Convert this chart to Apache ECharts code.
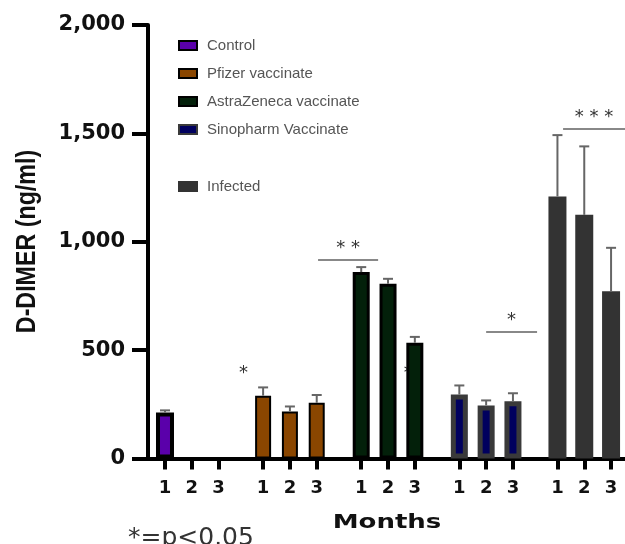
<!DOCTYPE html>
<html>
<head>
<meta charset="utf-8">
<title>D-DIMER</title>
<script src="https://cdn.jsdelivr.net/npm/echarts@6/dist/echarts.min.js"></script>
<style>
  html, body { margin: 0; padding: 0; background: #fff; }
  #main { width: 625px; height: 544px; }
</style>
</head>
<body>
<div id="main"></div>
<script>
    // 分组 / 月份 / 刻度
    const groupNames = ['Control', 'Pfizer vaccinate', 'AstraZeneca vaccinate', 'Sinopharm Vaccinate', 'Infected'];
    const monthLabels = ['1', '2', '3'];
    const yTicks = [0, 500, 1000, 1500, 2000];

    // 均值 与 误差 (ng/ml)
    const controlMean = [212, null, null];
    const controlErr = [10, null, null];
    const pfizerMean = [290, 217, 257];
    const pfizerErr = [38, 23, 36];
    const astraMean = [860, 806, 534];
    const astraErr = [23, 23, 27];
    const sinoMean = [295, 245, 264];
    const sinoErr = [42, 23, 37];
    const infectedMean = [1209, 1124, 772];
    const infectedErr = [283, 316, 200];

    // 显著性标注: [x起点, x终点, y, 文字]
    const sigLines = [[6.71, 8.95, 918, '* *'], [12.98, 14.88, 586, '*'], [15.85, 18.16, 1523, '* * *']];
    const sigStars = [[3.93, 392], [10.07, 392]];

    const means = [controlMean, pfizerMean, astraMean, sinoMean, infectedMean];
    const errs = [controlErr, pfizerErr, astraErr, sinoErr, infectedErr];

    const GROUP_STEP = 3.66;
    const X_MIN = 0.366, X_MAX = 18.16;
    const pos = (g, m) => +(1 + g * GROUP_STEP + m).toFixed(2);

    const styles = [
        {color: '#5a00aa', borderColor: '#000', borderWidth: 4},
        {color: '#8a4600', borderColor: '#000', borderWidth: 2},
        {color: '#03200a', borderColor: '#000', borderWidth: 3},
        {color: '#00005e', borderColor: '#3a3a3a', borderWidth: 5},
        {color: '#333333', borderColor: '#333333', borderWidth: 0}
    ];
    // 边框画在柱内, 所以这里是外宽
    const barWidths = [18, 16, 17, 17, 18];

    const tickValues = [];
    const tickText = {};
    groupNames.forEach((n, g) => monthLabels.forEach((lab, m) => {
        tickValues.push(pos(g, m));
        tickText[pos(g, m).toFixed(2)] = lab;
    }));

    const boldFont = "'DejaVu Sans', sans-serif";

    const xAxes = groupNames.map((n, g) => ({
        type: 'value',
        min: X_MIN,
        max: X_MAX,
        show: g === 0,
        axisLine: {lineStyle: {color: '#000', width: 4}},
        axisTick: {show: true, length: 11, lineStyle: {color: '#000', width: 4}, customValues: tickValues},
        axisLabel: {
            customValues: tickValues,
            margin: 21,
            fontFamily: boldFont,
            fontWeight: 'bold',
            fontSize: 18,
            color: '#111',
            formatter: v => tickText[(+v).toFixed(2)] || ''
        },
        splitLine: {show: false}
    }));

    const barSeries = groupNames.map((n, g) => ({
        name: n,
        type: 'bar',
        xAxisIndex: g,
        barWidth: barWidths[g],
        z: 2,
        itemStyle: styles[g],
        emphasis: {disabled: true},
        data: means[g].map((v, m) => v == null ? null : [pos(g, m), v]).filter(d => d)
    }));

    const errData = [];
    means.forEach((arr, g) => arr.forEach((v, m) => {
        if (v != null) errData.push([pos(g, m), v, errs[g][m]]);
    }));

    const legendText = {fontFamily: "'Liberation Sans', Arial, sans-serif", fontSize: 15, color: '#555', padding: [0, 0, 0, 5]};

    let myChart = echarts.init(document.getElementById('main'), null, {renderer: 'canvas'});
    myChart.setOption({
        animation: false,
        grid: {left: 148, right: 0, top: 25, bottom: 85.5, containLabel: false},
        legend: [{
            data: groupNames.slice(0, 4),
            orient: 'vertical',
            left: 178, top: 38,
            padding: 0,
            icon: 'rect',
            itemWidth: 18, itemHeight: 9, itemGap: 13,
            itemStyle: {borderWidth: 2},
            textStyle: legendText,
            selectedMode: false
        }, {
            data: groupNames.slice(4),
            orient: 'vertical',
            left: 178, top: 179,
            padding: 0,
            icon: 'rect',
            itemWidth: 18, itemHeight: 9,
            itemStyle: {borderWidth: 2},
            textStyle: legendText,
            selectedMode: false
        }],
        xAxis: xAxes,
        yAxis: {
            type: 'value',
            min: yTicks[0],
            max: yTicks[yTicks.length - 1],
            interval: yTicks[1] - yTicks[0],
            axisLine: {show: true, lineStyle: {color: '#000', width: 4}},
            axisTick: {show: true, length: 16, lineStyle: {color: '#000', width: 4}},
            axisLabel: {
                margin: 23,
                fontFamily: boldFont,
                fontWeight: 'bold',
                fontSize: 21,
                color: '#111',
                formatter: v => v.toLocaleString('en-US')
            },
            splitLine: {show: false}
        },
        series: barSeries.concat([{
            type: 'custom',
            name: 'err',
            xAxisIndex: 0,
            z: 3,
            silent: true,
            data: errData,
            encode: {x: 0, y: 1},
            renderItem: function (params, api) {
                const x = api.value(0), y = api.value(1), e = api.value(2);
                const base = api.coord([x, y]);
                const top = api.coord([x, y + e]);
                return {
                    type: 'group',
                    children: [
                        {type: 'line', shape: {x1: base[0], y1: base[1], x2: top[0], y2: top[1]}, style: {stroke: '#666', lineWidth: 2}},
                        {type: 'line', shape: {x1: top[0] - 5, y1: top[1], x2: top[0] + 5, y2: top[1]}, style: {stroke: '#666', lineWidth: 2}}
                    ]
                };
            },
            markLine: {
                silent: true,
                symbol: ['none', 'none'],
                lineStyle: {color: '#888', width: 2, type: 'solid'},
                label: {position: 'insideMiddleTop', distance: 2, fontFamily: boldFont, fontSize: 18, color: '#333'},
                emphasis: {disabled: true},
                data: sigLines.map(s => [
                    {coord: [s[0], s[2]], label: {formatter: s[3]}},
                    {coord: [s[1], s[2]]}
                ])
            },
            markPoint: {
                z: 1,
                silent: true,
                symbol: 'circle',
                symbolSize: 0,
                label: {show: true, position: 'inside', formatter: '*', fontFamily: boldFont, fontSize: 18, color: '#333'},
                data: sigStars.map(s => ({coord: s}))
            }
        }]),
        graphic: [{
            // y 轴标题 (窄体)
            type: 'text',
            x: 27, y: 241.5,
            rotation: Math.PI / 2,
            scaleX: 0.83,
            style: {text: 'D-DIMER (ng/ml)', font: "bold 28px 'Liberation Sans', Arial, sans-serif", fill: '#111', align: 'center', verticalAlign: 'middle'}
        }, {
            type: 'text',
            x: 387, y: 523,
            scaleX: 1.3,
            style: {text: 'Months', font: "bold 20px 'DejaVu Sans', sans-serif", fill: '#111', align: 'center', verticalAlign: 'middle'}
        }, {
            type: 'text',
            left: 128,
            top: 526,
            style: {text: '*=p<0.05', fontFamily: boldFont, fontSize: 25, fill: '#333'}
        }]
    });
</script>
</body>
</html>
